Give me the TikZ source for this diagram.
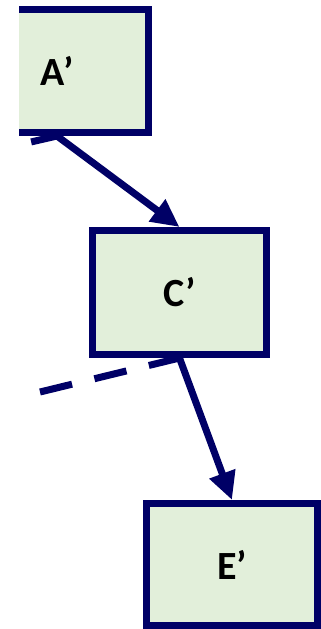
\documentclass[tikz,border=0pt]{standalone}
\usepackage{fontspec}
\setmainfont{Carlito}
\usepackage{tikz}
\usetikzlibrary{arrows.meta,backgrounds}
\definecolor{boxnavy}{HTML}{000066}
\definecolor{boxgreen}{HTML}{E2EFDA}
\tikzset{
    mapbox/.style={draw=boxnavy,fill=boxgreen,line width=7pt,inner sep=0pt,
        font=\fontsize{40}{48}\selectfont\bfseries},
    every edge/.style={draw=boxnavy,line width=7pt,-{Triangle[length=28pt,width=26pt]}},
    faded/.style={dash pattern=on 33pt off 23pt,-},
}

\begin{document}
\begin{tikzpicture}[x=1pt,y=-1pt]
    \useasboundingbox (0,0) rectangle (321,629);
    \clip (19,0) rectangle (321,629);
    \node[mapbox,minimum width=183pt,minimum height=123pt] (aprime) at (57,71) {A’};
    \node[mapbox,minimum width=174pt,minimum height=124pt] (cprime) at (179.5,292.5) {C’};
    \node[mapbox,minimum width=171pt,minimum height=122pt] (eprime) at (232,564.5) {E’};
    \coordinate (ain) at (-78,167);
    \coordinate (cin) at (40,392);

    \begin{pgfonlayer}{background}
    \clip (19,0) rectangle (321,629);
    \path
    (ain) edge[faded] (aprime.south)
    (aprime.south) edge (cprime.north)
    (cin) edge[faded] (cprime.south)
    (cprime.south) edge (eprime.north);
    \end{pgfonlayer}
\end{tikzpicture}
\end{document}
